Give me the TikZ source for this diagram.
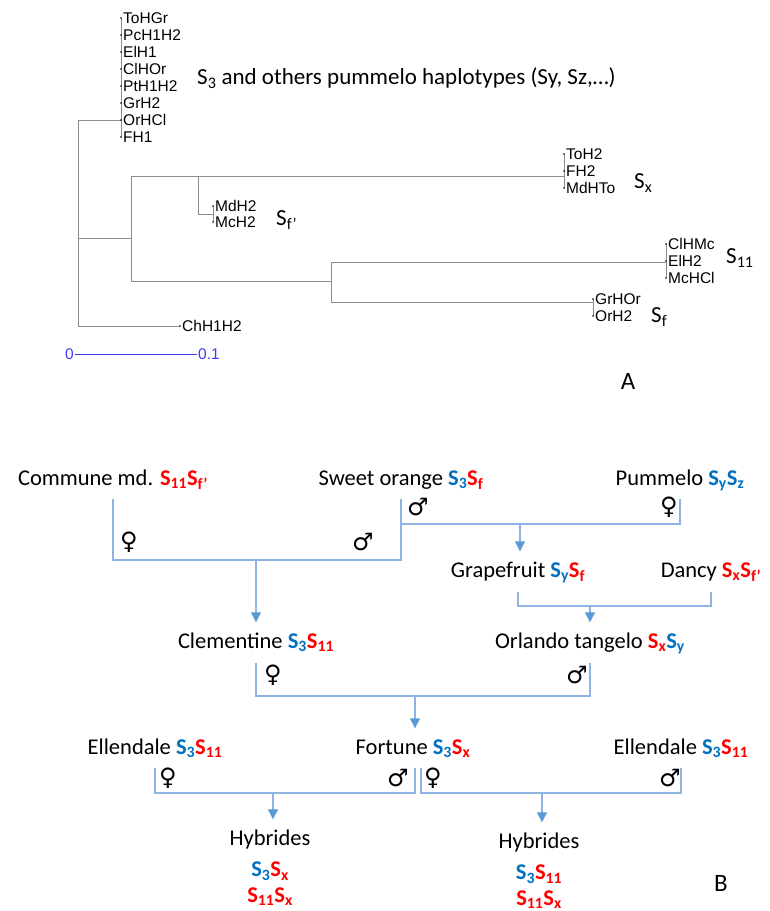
\documentclass[tikz,border=0pt]{standalone}
\usepackage{fontspec}
\setmainfont{Carlito}
\newfontfamily\arialfont{Liberation Sans}
\newfontfamily\symfont{DejaVu Sans}
\usepackage{xcolor}
\usepackage{tikz}
\usetikzlibrary{arrows.meta,positioning,calc}
\definecolor{sblue}{HTML}{0070C0}
\definecolor{sred}{HTML}{FF0000}
\definecolor{linkblue}{HTML}{8DB4E2}
\definecolor{arrowblue}{HTML}{5B9BD5}
\definecolor{treegray}{HTML}{8C8C8C}
\definecolor{scaleblue}{HTML}{3C3CF0}
\newcommand{\hapb}[1]{\textcolor{sblue}{\textbf{S\textsubscript{#1}}}}
\newcommand{\hapr}[1]{\textcolor{sred}{\textbf{S\textsubscript{#1}}}}

\begin{document}
\begin{tikzpicture}[x=1pt,y=-1pt,
    tree/.style={draw=treegray,line width=0.9pt},
    leaf/.style={anchor=west,inner sep=2pt,font=\arialfont\fontsize{15.5}{15.5}\selectfont},
    hap/.style={anchor=west,inner sep=0pt,font=\fontsize{23}{23}\selectfont},
    parent/.style={inner sep=0pt,text height=16pt,text depth=5pt,font=\fontsize{22.5}{26}\selectfont},
    sex/.style={inner sep=0pt,font=\symfont\fontsize{24}{24}\selectfont},
    link/.style={draw=linkblue,line width=1.2pt},
    drop/.style={draw=linkblue,line width=1.2pt,-{Triangle[length=10pt,width=10pt,color=arrowblue]},shorten >=10pt}]
      \useasboundingbox (0,0) rectangle (769,911);

      \foreach \lab [count=\i from 0] in {ToHGr,PcH1H2,ElH1,ClHOr,PtH1H2,GrH2,OrHCl,FH1}
        \node[leaf] (p\i) at (121,18+17*\i) {\lab};
      \foreach \lab [count=\i from 0] in {ToH2,FH2,MdHTo}
        \node[leaf] (x\i) at (564,154+17*\i) {\lab};
      \foreach \lab [count=\i from 0] in {MdH2,McH2}
        \node[leaf] (m\i) at (213,206+16*\i) {\lab};
      \foreach \lab [count=\i from 0] in {ClHMc,ElH2,McHCl}
        \node[leaf] (e\i) at (666,244+17*\i) {\lab};
      \foreach \lab [count=\i from 0] in {GrHOr,OrH2}
        \node[leaf] (g\i) at (593,299+17*\i) {\lab};
      \node[leaf] (ch) at (180,326) {ChH1H2};

      \draw[tree] (p0.west) -- (p7.west);
      \draw[tree] (x0.west) -- (x2.west);
      \draw[tree] (m0.west) -- (m1.west);
      \draw[tree] (e0.west) -- (e2.west);
      \draw[tree] (g0.west) -- (g1.west);
      \draw[tree] (p6.west) -| (78,326) -- (ch.west);
      \draw[tree] (78,238) -| (131,176) -- (564,176);
      \draw[tree] (131,176) -- (131,281) -- (331,281);
      \draw[tree] (198,176) |- (213,214);
      \draw[tree] (331,262) -- (331,302);
      \draw[tree] (331,262) -- (666,262);
      \draw[tree] (331,302) -- (593,302);
      \foreach \n in {p0,p1,p2,p3,p4,p5,p6,p7,x0,x1,x2,m0,m1,e0,e1,e2,g0,g1,ch}
        \fill (\n.west) circle (0.8pt);

      \node[anchor=east,inner sep=1pt,text=scaleblue,font=\arialfont\fontsize{15.5}{15.5}\selectfont] (s0) at (75,354) {0};
      \node[anchor=west,inner sep=1pt,text=scaleblue,font=\arialfont\fontsize{15.5}{15.5}\selectfont] (s1) at (197,354) {0.1};
      \draw[scaleblue,line width=0.8pt] (s0.east) -- (s1.west);

      \node[hap] (h3) at (197,78) {S\textsubscript{3} and others pummelo haplotypes (Sy, Sz,…)};
      \node[hap] (hfp) at (276,220) {S\textsubscript{f’}};
      \node[hap] (hx) at (634,183) {S\textsubscript{x}};
      \node[hap] (h11) at (726,258) {S\textsubscript{11}};
      \node[hap] (hf) at (651,317) {S\textsubscript{f}};
      \node[font=\fontsize{25}{25}\selectfont] (pa) at (628,381) {A};

      \node[parent] (co) at (113,480) {Commune md. \hapr{11}\hapr{f’}};
      \node[parent] (so) at (401,480) {Sweet orange \hapb{3}\hapr{f}};
      \node[parent] (pu) at (680,480) {Pummelo \hapb{y}\hapb{z}};
      \node[parent] (gr) at (518,572) {Grapefruit \hapb{y}\hapr{f}};
      \node[parent] (da) at (711,572) {Dancy \hapr{x}\hapr{f’}};
      \node[parent] (cl) at (256,643) {Clementine \hapb{3}\hapr{11}};
      \node[parent] (ot) at (590,643) {Orlando tangelo \hapr{x}\hapb{y}};
      \node[parent] (el1) at (155,749) {Ellendale \hapb{3}\hapr{11}};
      \node[parent] (fo) at (413,749) {Fortune \hapb{3}\hapr{x}};
      \node[parent] (el2) at (681,749) {Ellendale \hapb{3}\hapr{11}};
      \node[parent] (hy1) at (270,840) {Hybrides};
      \node[parent,below=10pt of hy1] (hy1a) {\hapb{3}\hapr{x}};
      \node[parent,below=4pt of hy1a] (hy1b) {\hapr{11}\hapr{x}};
      \node[parent] (hy2) at (539,843) {Hybrides};
      \node[parent,below=10pt of hy2] (hy2a) {\hapb{3}\hapr{11}};
      \node[parent,below=4pt of hy2a] (hy2b) {\hapr{11}\hapr{x}};
      \node[font=\fontsize{25}{25}\selectfont] (pb) at (721,883) {B};

      \node[sex] (fe1) at (129,542) {♀};
      \node[sex] (ma1) at (363,542) {♂};
      \node[sex] (ma2) at (418,507) {♂};
      \node[sex] (fe2) at (669,507) {♀};
      \node[sex] (fe4) at (273,675) {♀};
      \node[sex] (ma4) at (577,675) {♂};
      \node[sex] (fe5) at (168,778) {♀};
      \node[sex] (ma5) at (398,778) {♂};
      \node[sex] (fe6) at (433,778) {♀};
      \node[sex] (ma6) at (670,778) {♂};

      \coordinate (j1) at (256,560);
      \coordinate (j2) at (520,524);
      \coordinate (j3) at (590,606);
      \coordinate (j4) at (415,696);
      \coordinate (j5) at (273,793);
      \coordinate (j6) at (542,793);

      \draw[link] ([yshift=-8pt]co.south) |- (j1) -| ([yshift=-8pt]so.south);
      \draw[link] ([yshift=-8pt]so.south) |- (j2) -| ([yshift=-8pt]pu.south);
      \draw[link] ([yshift=-9pt]gr.south) |- (j3) -| ([yshift=-9pt]da.south);
      \draw[link] ([yshift=-9pt]cl.south) |- (j4) -| ([yshift=-9pt]ot.south);
      \draw[link] ([yshift=-8pt]el1.south) |- (j5) -| ([xshift=2pt,yshift=-8pt]fo.south);
      \draw[link] ([xshift=8pt,yshift=-8pt]fo.south) |- (j6) -| ([yshift=-8pt]el2.south);

      \draw[drop] (j1) -- (j1 |- cl.north);
      \draw[drop] (j2) -- (j2 |- gr.north);
      \draw[drop] (j3) -- (j3 |- ot.north);
      \draw[drop] (j4) -- (j4 |- fo.north);
      \draw[drop] (j5) -- (j5 |- hy1.north);
      \draw[drop] (j6) -- (j6 |- hy2.north);
    \end{tikzpicture}
\end{document}
